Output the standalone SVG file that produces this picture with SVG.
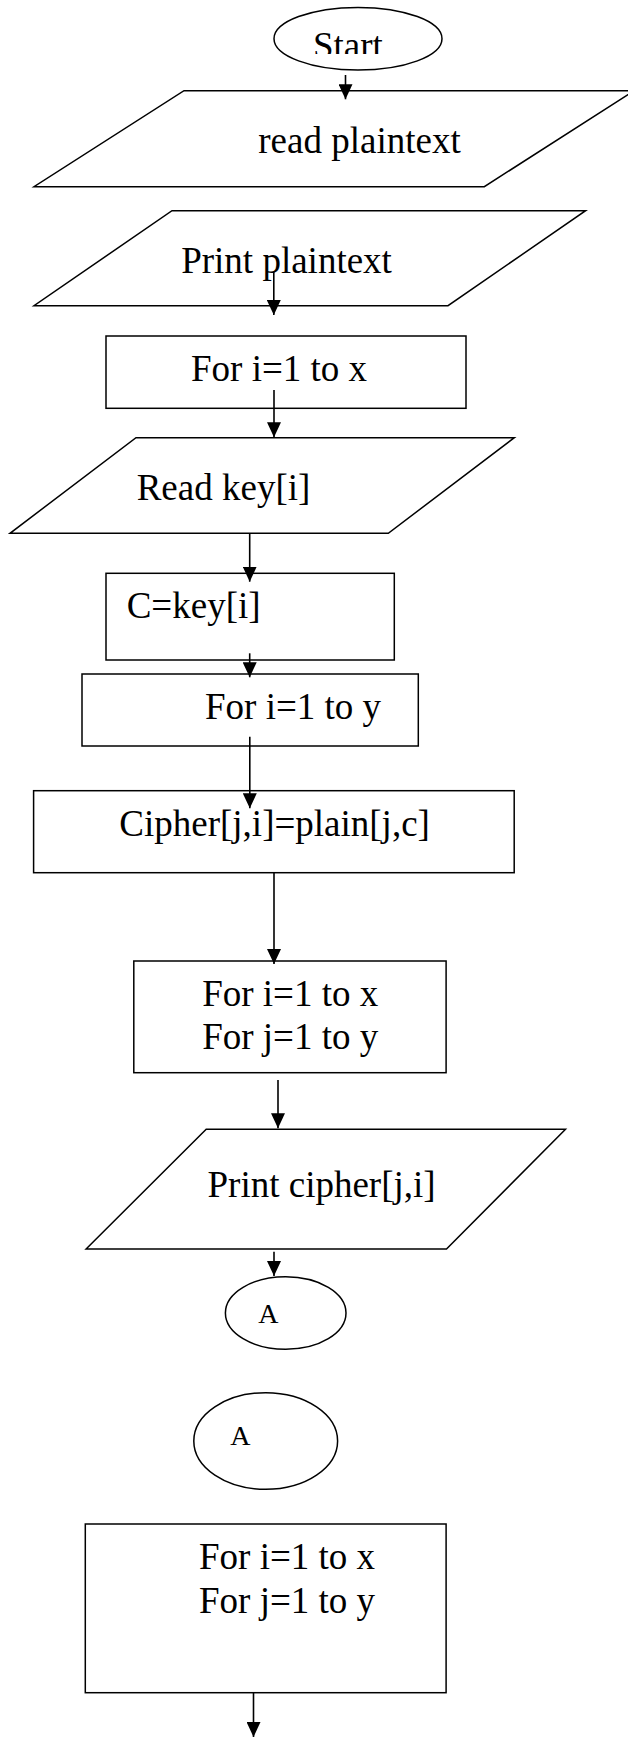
<svg xmlns="http://www.w3.org/2000/svg" width="628" height="1737" viewBox="0 0 628 1737">
<style>
.s{fill:#fff;stroke:#000;stroke-width:1.5}
.t{font-family:"Liberation Serif","Times New Roman",serif;font-size:37px;fill:#000}
.c{fill:none;stroke:#000;stroke-width:1.6}
</style>
<defs>
<marker id="ah" markerUnits="userSpaceOnUse" markerWidth="15" markerHeight="14" refX="15" refY="7" orient="auto">
<path d="M0,0 L15,7 L0,14 z" fill="#000"/>
</marker>
<clipPath id="startClip"><rect x="0" y="0" width="628" height="54"/></clipPath>
</defs>
<rect width="628" height="1737" fill="#fff"/>
<g id="start">
<ellipse class="s" cx="358" cy="38.7" rx="84" ry="31.3"/>
<text class="t" x="313" y="57.5" clip-path="url(#startClip)">Start</text>
</g>
<g id="read-plaintext">
<polygon class="s" points="184,90.7 634,90.7 484.3,186.7 34,186.7"/>
<text class="t" x="258.3" y="153.3">read plaintext</text>
</g>
<g id="print-plaintext">
<polygon class="s" points="172,210.7 585.6,210.7 448,305.7 34,305.7"/>
<text class="t" x="181.2" y="272.7">Print plaintext</text>
</g>
<g id="for-i-x">
<rect class="s" x="106" y="336" width="360" height="72.3"/>
<text class="t" x="191" y="381">For i=1 to x</text>
</g>
<g id="read-key">
<polygon class="s" points="136,437.7 514.3,437.7 388.3,533.3 10,533.3"/>
<text class="t" x="136.7" y="500">Read key[i]</text>
</g>
<g id="c-key">
<rect class="s" x="106" y="573.3" width="288.3" height="86.7"/>
<text class="t" x="126.7" y="618.3">C=key[i]</text>
</g>
<g id="for-i-y">
<rect class="s" x="82" y="674" width="336.3" height="72"/>
<text class="t" x="205" y="719">For i=1 to y</text>
</g>
<g id="cipher-assign">
<rect class="s" x="33.6" y="790.7" width="480.6" height="82"/>
<text class="t" x="119.3" y="836">Cipher[j,i]=plain[j,c]</text>
</g>
<g id="for-ij-1">
<rect class="s" x="133.8" y="961" width="312.3" height="111.7"/>
<text class="t" x="202.2" y="1005.7">For i=1 to x</text>
<text class="t" x="202.2" y="1049.3">For j=1 to y</text>
</g>
<g id="print-cipher">
<polygon class="s" points="206.2,1129.3 565.5,1129.3 446.5,1249 86.1,1249"/>
<text class="t" x="207.5" y="1196.7">Print cipher[j,i]</text>
</g>
<g id="connector-a1">
<ellipse class="s" cx="285.7" cy="1313" rx="60.3" ry="36.3"/>
<text class="t" x="258.3" y="1323.3" style="font-size:28px">A</text>
</g>
<g id="connector-a2">
<ellipse class="s" cx="265.7" cy="1441" rx="71.9" ry="48.3"/>
<text class="t" x="230.3" y="1445" style="font-size:28px">A</text>
</g>
<g id="for-ij-2">
<rect class="s" x="85.3" y="1524" width="360.8" height="168.7"/>
<text class="t" x="199" y="1569.3">For i=1 to x</text>
<text class="t" x="199" y="1612.7">For j=1 to y</text>
</g>
<g id="connectors">
<line class="c" x1="345.5" y1="75" x2="345.5" y2="99.3" marker-end="url(#ah)"/>
<line class="c" x1="273.8" y1="271.7" x2="273.8" y2="315" marker-end="url(#ah)"/>
<line class="c" x1="274" y1="390" x2="274" y2="437.3" marker-end="url(#ah)"/>
<line class="c" x1="249.7" y1="533.3" x2="249.7" y2="581.7" marker-end="url(#ah)"/>
<line class="c" x1="249.7" y1="653.3" x2="249.7" y2="677.3" marker-end="url(#ah)"/>
<line class="c" x1="249.8" y1="736.7" x2="249.8" y2="808.3" marker-end="url(#ah)"/>
<line class="c" x1="274" y1="872.7" x2="274" y2="964" marker-end="url(#ah)"/>
<line class="c" x1="278" y1="1080" x2="278" y2="1128.3" marker-end="url(#ah)"/>
<line class="c" x1="274" y1="1251.7" x2="274" y2="1276" marker-end="url(#ah)"/>
<line class="c" x1="253.5" y1="1692.7" x2="253.5" y2="1737" marker-end="url(#ah)"/>
</g>
</svg>
